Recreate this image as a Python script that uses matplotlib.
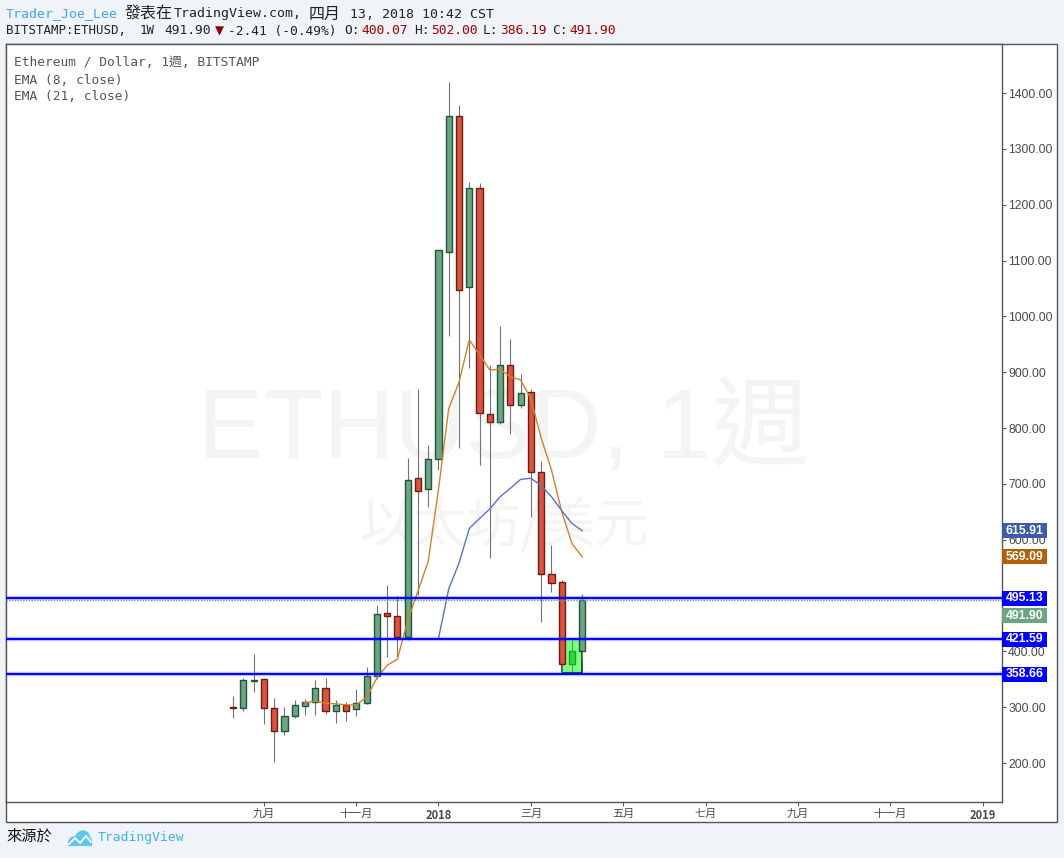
"""ETHUSD weekly candles with EMA 8/21 and support lines (TradingView style)."""
import matplotlib

matplotlib.use("Agg")
import matplotlib.pyplot as plt
import matplotlib.transforms as mtransforms
from matplotlib import font_manager
from matplotlib.patches import Polygon, Rectangle

# weeks counted from the week of 2018-01-01
weeks = list(range(-20, 15))
opens = [300, 298, 347, 350, 298, 257, 284, 302, 309, 335, 294, 303, 296, 307, 355,
         468, 463, 425, 710, 690, 744, 1116, 1359, 1052, 1230, 825, 810, 912, 842, 864,
         721, 538, 524, 378, 400.07]
highs = [320, 353, 396, 353, 316, 300, 313, 315, 349, 352, 312, 310, 332, 372, 483,
         519, 499, 746, 870, 770, 1118, 1420, 1379, 1241, 1239, 913, 983, 959, 897, 870,
         741, 590, 527, 421, 502.00]
lows = [281, 294, 328, 270, 202, 251, 280, 286, 286, 288, 272, 276, 285, 306, 350,
        389, 390, 420, 501, 659, 725, 965, 764, 907, 733, 567, 808, 789, 836, 641,
        453, 507, 359, 362, 386.19]
closes = [298, 348, 349, 298, 257, 284, 303, 309, 335, 294, 303, 294, 307, 355, 466,
          463, 425, 707, 687, 744, 1118, 1359, 1048, 1230, 826, 810, 912, 842, 862, 721,
          538, 522, 378, 400, 491.90]

ema8_weeks = list(range(-13, 15))
ema8 = [308, 311, 307, 306, 304, 304, 318, 352, 375, 386, 455, 508, 561, 690,
        835, 882, 958, 931, 904, 905, 892, 886, 852, 782, 725, 650, 593, 569.09]
ema21_weeks = list(range(0, 15))
ema21 = [423, 512, 558, 620, 638, 655, 677, 692, 708, 710, 697, 677, 652, 629, 615.91]

levels = [495.13, 421.59, 358.66]
last_price = 491.90
zone = (12, 14, 362, 421.59)  # week from, week to, low, high

tick_weeks = [-17, -8, 0, 9, 18, 26, 35, 44, 53]
tick_labels = ["九月", "十一月", "2018", "三月", "五月", "七月", "九月", "十一月", "2019"]
price_ticks = list(range(200, 1500, 100))

price_tags = [(615.91, "#3f5aa6", 0), (569.09, "#b4600a", 0), (495.13, "#0000ff", 0),
              (491.90, "#6ba583", -15.5), (421.59, "#0000ff", 0), (358.66, "#0000ff", 0)]

W, H = 1064, 858
BG = "#f0f3f7"
UP, UP_EDGE = "#6ba583", "#225437"
DN, DN_EDGE = "#d75442", "#6f1b12"
MONO = ["DejaVu Sans Mono", "Noto Sans CJK TC"]
CJK = ["Noto Sans CJK TC", "DejaVu Sans"]
names = {f.name for f in font_manager.fontManager.ttflist}
NARROW = "Liberation Sans Narrow" if "Liberation Sans Narrow" in names else "Liberation Sans"


def fx(px):
    return px / W


def fy(py):
    return 1 - py / H


def put(px, py, s, size, color="#222222", family=MONO, **kw):
    fig.text(fx(px), fy(py), s, fontsize=size, color=color, family=family,
             va="center", ha="left", **kw)


def fit_width(t, target_px):
    r = fig.canvas.get_renderer()
    w = t.get_window_extent(renderer=r).width
    t.set_fontsize(t.get_fontsize() * target_px / w)


fig = plt.figure(figsize=(W / 100, H / 100), dpi=100, facecolor=BG)

# white chart panel with the price scale + time scale
fig.add_artist(Rectangle((fx(6), fy(822)), 1051 / W, 778 / H, transform=fig.transFigure,
                         facecolor="white", edgecolor="#555555", lw=1, zorder=-1))

ax = fig.add_axes([fx(6), fy(802), 996 / W, 758 / H])
ax.set_facecolor("white")
ax.set_xlim(-42.11, 54.87)
ax.set_ylim(130.15, 1487.8)
for sp in ax.spines.values():
    sp.set_color("#555555")
    sp.set_linewidth(1)

# watermark
wm1 = ax.text(0.5, 0.4538, "ETHUSD, 1週", transform=ax.transAxes, ha="center",
              va="baseline", fontsize=80, color="#f4f4f4",
              family=[NARROW, "Noto Sans CJK TC"], zorder=0)
wm2 = ax.text(0.5, 0.364, "以太坊/美元", transform=ax.transAxes, ha="center", va="center",
              fontsize=36, color="#f4f4f4", family=CJK, zorder=0)
fit_width(wm1, 612)
fit_width(wm2, 290)

# candles
for i, w in enumerate(weeks):
    o, h, l, c = opens[i], highs[i], lows[i], closes[i]
    z = 2.5 if zone[0] < w < zone[1] else 3
    ax.vlines(w, l, h, color="#737375", lw=0.8, zorder=z)
    up = c >= o
    ax.bar(w, max(abs(c - o), 1.0), bottom=min(o, c), width=0.6,
           color=UP if up else DN, edgecolor=UP_EDGE if up else DN_EDGE,
           linewidth=1, zorder=z + 0.1)

ax.add_patch(Rectangle((zone[0], zone[2]), zone[1] - zone[0], zone[3] - zone[2],
                       facecolor=(0, 1, 0, 0.5), edgecolor="#123d12", lw=1.2, zorder=2.8))

ax.plot(ema8_weeks, ema8, color="#d1822a", lw=1, zorder=4)
ax.plot(ema21_weeks, ema21, color="#5b73c6", lw=1, zorder=4)

for lv in levels:
    ax.axhline(lv, color="#0000ff", lw=3.2, alpha=0.25, zorder=5)
    ax.axhline(lv, color="#0000ff", lw=1.4, zorder=5.1)
ax.axhline(last_price, color="#6ba583", lw=1, ls=(0, (1, 1)), zorder=5)

# price scale (500.00 sits fully under the price tags)
ax.yaxis.tick_right()
ax.set_yticks(price_ticks)
ax.set_yticklabels(["" if v == 500 else f"{v:.2f}" for v in price_ticks])
ax.tick_params(axis="y", direction="out", length=3, width=0.8, color="#555555",
               labelsize=8.8, labelcolor="#4a4a4a", pad=1.5)
for t in ax.get_yticklabels():
    t.set_family("Liberation Sans")

ax.set_xticks(tick_weeks)
ax.set_xticklabels(tick_labels)
ax.tick_params(axis="x", direction="out", length=3, width=0.8, color="#555555",
               labelsize=8, labelcolor="#4a4a4a", pad=2)
for t in ax.get_xticklabels():
    t.set_family(CJK)
    if t.get_text().isdigit():
        t.set_fontweight("bold")

blend = mtransforms.blended_transform_factory(ax.transAxes, ax.transData)
unit = (1487.8 - 130.15) / 758  # price per pixel
for val, col, off in price_tags:
    yc = val + off * unit
    ax.add_patch(Rectangle((1.0, yc - 7.5 * unit), 45 / 996, 15 * unit, transform=blend,
                           facecolor=col, edgecolor="none", clip_on=False, zorder=6))
    ax.text(1.0 + 4 / 996, yc, f"{val:.2f}", transform=blend, ha="left", va="center",
            fontsize=8.8, color="white", fontweight="bold", family="Liberation Sans",
            clip_on=False, zorder=7)

# legend lines in the pane
put(14, 63, "Ethereum / Dollar, 1週, BITSTAMP", 9.3, "#555555")
put(14, 80, "EMA (8, close)", 9.3, "#555555")
put(14, 97, "EMA (21, close)", 9.3, "#555555")

# header
put(6, 14, "Trader_Joe_Lee", 9.5, "#3fa9e0")
put(125, 14, "發表在", 11.5, "#222222", CJK)
put(174, 14, "TradingView.com,", 9.5)
put(309, 14, "四月", 11.5, "#222222", CJK)
put(350, 14, "13, 2018 10:42 CST", 9.5)

RED = "#a30000"
put(6, 31, "BITSTAMP:ETHUSD,", 8.9)
put(140, 31, "1W", 8.9)
put(164, 31, "491.90", 9.3)
put(215, 31, "▼", 8.5, "#8b0000", ["DejaVu Sans"])
put(228, 31, "-2.41 (-0.49%)", 9.3)
for px, lab, val in [(344, "O:", "400.07"), (414, "H:", "502.00"),
                     (483, "L:", "386.19"), (552, "C:", "491.90")]:
    put(px, 31, lab, 9.3)
    put(px + 17, 31, val, 9.3, RED)

# footer
put(6, 836, "來源於", 11, "#111111", CJK)
logo = [(68, 846), (68, 841), (71, 837), (75, 836), (78, 832), (83, 830), (88, 832),
        (90, 836), (92, 840), (92, 846)]
fig.add_artist(Polygon([(fx(a), fy(b)) for a, b in logo], closed=True,
                       transform=fig.transFigure, facecolor="#5fc6ee", edgecolor="none"))
zig = [(69, 844), (75, 838), (80, 843), (86, 836), (91, 842)]
fig.add_artist(plt.Line2D([fx(a) for a, _ in zig], [fy(b) for _, b in zig],
                          transform=fig.transFigure, color="white", lw=1.3))
put(98, 837, "TradingView", 9.4, "#3db5e6")

fig.savefig("out.png", dpi=100, facecolor=BG)
